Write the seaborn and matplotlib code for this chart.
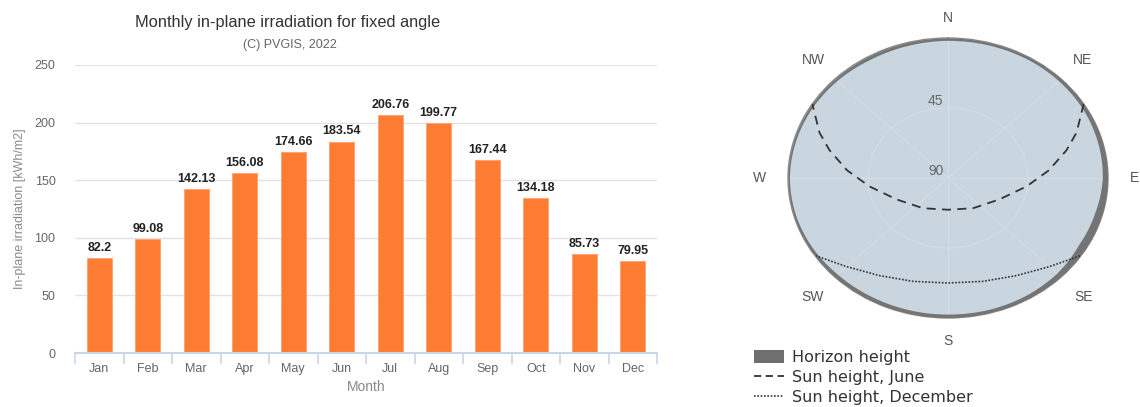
import numpy as np
import pandas as pd
import matplotlib
matplotlib.use("Agg")
import matplotlib.pyplot as plt
from matplotlib.patches import Patch
from matplotlib.lines import Line2D
import seaborn as sns

# ---------------- data ----------------
months = ["Jan", "Feb", "Mar", "Apr", "May", "Jun", "Jul", "Aug", "Sep", "Oct", "Nov", "Dec"]
irradiation = [82.2, 99.08, 142.13, 156.08, 174.66, 183.54, 206.76, 199.77, 167.44, 134.18, 85.73, 79.95]
y_ticks = [0, 50, 100, 150, 200, 250]

# horizon profile (azimuth from North, clockwise, degrees) and horizon height (deg)
horizon_az = [0, 15, 30, 45, 60, 75, 90, 105, 120, 135, 150, 165, 180,
              195, 210, 225, 240, 255, 270, 285, 300, 315, 330, 345, 360]
horizon_h = [1.5, 1.5, 1.5, 1.8, 2.2, 2.8, 3.2, 4.5, 5.0, 3.5, 2.8, 2.5, 2.5,
             2.5, 2.5, 2.3, 1.5, 1.0, 0.8, 1.0, 1.2, 1.5, 2.0, 1.8, 1.5]

# sun paths (azimuth, elevation)
june_az = [58, 68, 75, 85, 97, 115.5, 144, 180, 216, 244.5, 263, 275, 285, 292, 302]
june_el = [0, 12, 21, 33, 45.5, 58, 66, 69.6, 66, 58, 45.5, 33, 21, 12, 0]
dec_az = [124, 135, 148.5, 163.5, 180, 196.5, 211.5, 225, 236]
dec_el = [0.5, 9.4, 16.4, 20.7, 22.5, 20.7, 16.4, 9.4, 0.5]

compass_labels = ["N", "NE", "E", "SE", "S", "SW", "W", "NW"]
compass_az = [0, 45, 90, 135, 180, 225, 270, 315]
compass_el = [-13, -17, -15, -18, -15, -18, -16, -17]

# ---------------- style ----------------
sns.set_theme(style="white")
plt.rcParams["font.family"] = ["Liberation Sans", "DejaVu Sans"]

fig = plt.figure(figsize=(11.4, 4.07), dpi=100)

# ---------------- bar chart ----------------
ax = fig.add_axes([75 / 1140, 1 - 353 / 407, (657 - 75) / 1140, (353 - 65) / 407])
df = pd.DataFrame({"Month": months, "Irradiation": irradiation})
sns.barplot(data=df, x="Month", y="Irradiation", color="#ff7d32", saturation=1,
            width=0.51, ax=ax, edgecolor="#ffa070", linewidth=0.6)
ax.set_ylim(0, 250)
ax.set_xlim(-0.5, len(months) - 0.5)
ax.set_yticks(y_ticks)
ax.set_yticklabels([str(t) for t in y_ticks], color="#666666", fontsize=9)
ax.yaxis.grid(True, color="#e3e3e3", linewidth=1)
ax.set_axisbelow(True)
for s in ["left", "right", "top"]:
    ax.spines[s].set_visible(False)
ax.spines["bottom"].set_color("#c9d6e6")
ax.spines["bottom"].set_linewidth(1.5)
ax.tick_params(axis="y", length=0, pad=14)
ax.set_xticks(range(len(months)))
ax.set_xticklabels(months, color="#666666", fontsize=9)
ax.set_xticks(np.arange(-0.5, len(months)), minor=True)
ax.tick_params(axis="x", which="major", length=0, pad=7)
ax.tick_params(axis="x", which="minor", length=8, width=1.2, color="#c9d6e6", bottom=True)
ax.set_xlabel("Month", color="#888888", fontsize=10, labelpad=4)
ax.set_ylabel("In-plane irradiation [kWh/m2]", color="#8a8a8a", fontsize=9, labelpad=6)
ax.bar_label(ax.containers[0], labels=[f"{v:g}" for v in irradiation],
             fontsize=9, fontweight="bold", color="#222222", padding=3)

fig.text(288 / 1140, 1 - 22 / 407, "Monthly in-plane irradiation for fixed angle",
         ha="center", va="center", fontsize=11.8, color="#333333")
fig.text(290 / 1140, 1 - 45 / 407, "(C) PVGIS, 2022",
         ha="center", va="center", fontsize=9, color="#666666")

# ---------------- sun path polar chart ----------------
pax = fig.add_axes([788 / 1140, 1 - 318 / 407, 320 / 1140, 280 / 407], projection="polar")
pax.set_aspect("auto")
pax.set_theta_zero_location("N")
pax.set_theta_direction(-1)
pax.set_facecolor("#c9d5df")
pax.set_rlim(0, 90)
pax.set_yticks([45])
pax.set_yticklabels([])
pax.set_xticks(np.deg2rad(compass_az))
pax.set_xticklabels([])
pax.grid(True, color="#d3dce5", linewidth=1)
pax.spines["polar"].set_color("#8a8a8a")
pax.spines["polar"].set_linewidth(1)

th_h = np.deg2rad(horizon_az)
coll = pax.fill_between(th_h, 90 - np.array(horizon_h), 90, color="#747474", linewidth=0, zorder=3)
for p in coll.get_paths():
    p._interpolation_steps = 30

pax.plot(np.deg2rad(june_az), 90 - np.array(june_el), color="#333333", linewidth=1.3,
         linestyle=(0, (5, 3.5)), zorder=4)
pax.plot(np.deg2rad(dec_az), 90 - np.array(dec_el), color="#333333", linewidth=1.2,
         linestyle=(0, (1, 1)), zorder=4)

for lab, az, el in zip(compass_labels, compass_az, compass_el):
    pax.text(np.deg2rad(az), 90 - el, lab, ha="center", va="center", fontsize=10,
             color="#555555", clip_on=False)
pax.text(np.deg2rad(352), 90 - 40, "45", ha="center", va="center", fontsize=10, color="#666666")
pax.text(np.deg2rad(304), 90 - 82, "90", ha="center", va="center", fontsize=10, color="#666666")

handles = [Patch(facecolor="#6f6f6f", edgecolor="none"),
           Line2D([0], [0], color="#333333", linestyle=(0, (4, 2.5)), linewidth=1.3),
           Line2D([0], [0], color="#333333", linestyle=(0, (1, 1)), linewidth=1.2)]
fig.legend(handles, ["Horizon height", "Sun height, June", "Sun height, December"],
           loc="upper left", bbox_to_anchor=(754 / 1140, 1 - 350 / 407), frameon=False,
           prop={"family": "DejaVu Sans", "size": 11.5}, labelcolor="#333333",
           handlelength=1.9, handleheight=0.9, handletextpad=0.5,
           labelspacing=0.3, borderaxespad=0, borderpad=0)

fig.savefig("out.png", dpi=100)
